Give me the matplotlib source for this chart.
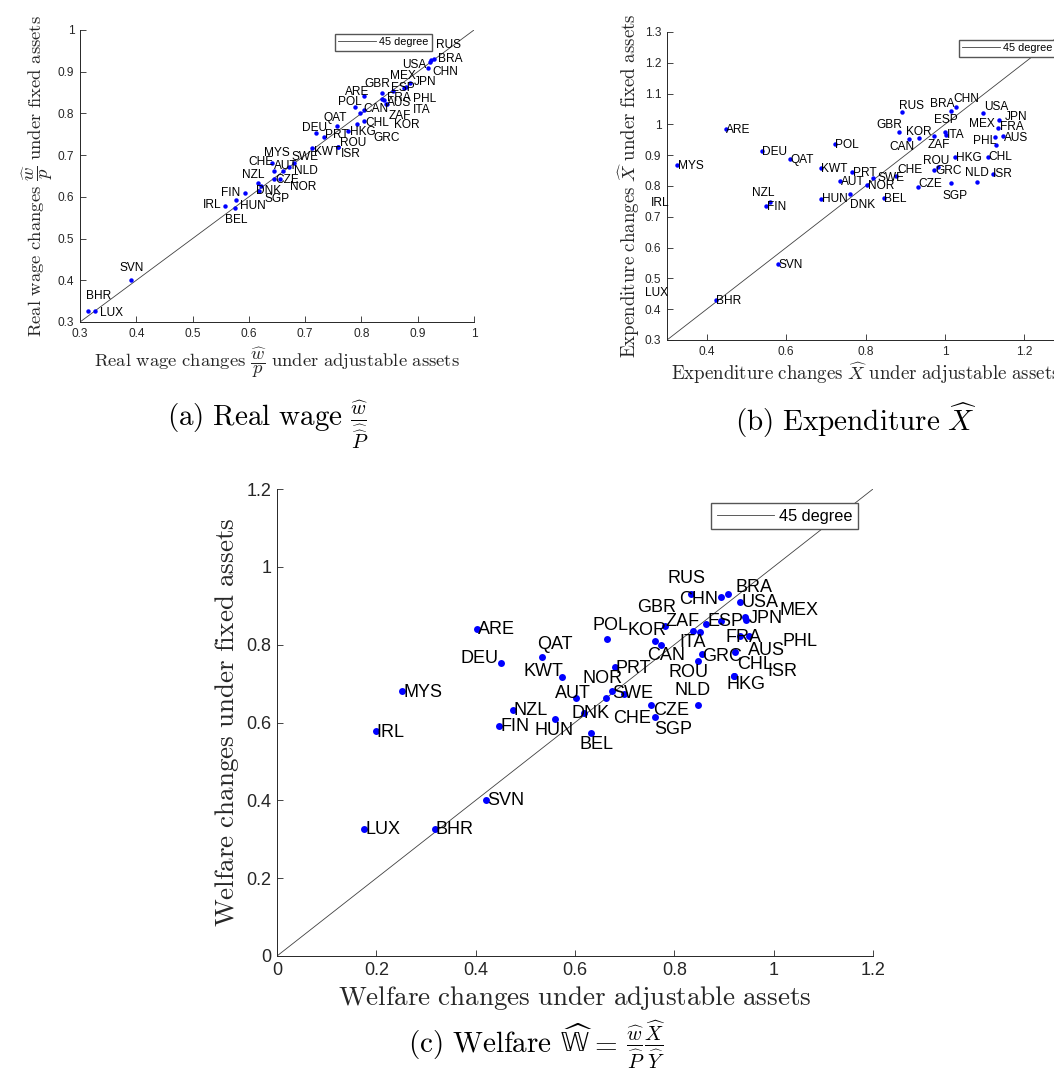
import matplotlib
matplotlib.use("Agg")
import matplotlib.pyplot as plt

plt.rcParams['mathtext.fontset'] = 'cm'
plt.rcParams['font.family'] = ['Liberation Sans', 'DejaVu Sans']

countries = ["ARE","AUS","AUT","BEL","BHR","BRA","CAN","CHE","CHL","CHN","CZE","DEU","DNK","ESP",
             "FIN","FRA","GBR","GRC","HKG","HUN","IRL","ISR","ITA","JPN","KOR","KWT","LUX","MEX",
             "MYS","NLD","NOR","NZL","PHL","POL","PRT","QAT","ROU","RUS","SGP","SVN","SWE","USA","ZAF"]
# real wage (= welfare) change under fixed assets
fixed_y = [0.841,0.822,0.662,0.573,0.327,0.929,0.800,0.672,0.781,0.923,0.644,0.752,0.625,0.853,
           0.592,0.822,0.849,0.775,0.719,0.609,0.577,0.720,0.832,0.864,0.809,0.717,0.327,0.872,
           0.680,0.644,0.662,0.633,0.862,0.815,0.743,0.769,0.757,0.931,0.615,0.401,0.680,0.910,0.834]
# real wage change under adjustable assets
wage_adj = [0.805,0.843,0.644,0.576,0.315,0.923,0.798,0.671,0.805,0.921,0.645,0.719,0.622,0.856,
            0.578,0.846,0.837,0.792,0.758,0.594,0.557,0.759,0.840,0.880,0.804,0.712,0.326,0.886,
            0.642,0.655,0.660,0.616,0.875,0.788,0.733,0.757,0.776,0.929,0.618,0.390,0.681,0.919,0.837]
# expenditure change under adjustable / fixed assets
exp_adj = [0.448,1.147,0.736,0.846,0.424,1.016,0.909,0.877,1.108,1.029,0.931,0.539,0.760,1.000,
           0.550,1.135,0.885,0.972,1.026,0.688,0.260,1.120,1.003,1.137,0.936,0.688,0.245,1.129,
           0.324,1.080,0.803,0.560,1.127,0.724,0.766,0.610,0.982,0.893,1.016,0.579,0.820,1.095,0.973]
exp_fixed = [0.986,0.962,0.816,0.760,0.429,1.042,0.951,0.834,0.895,1.055,0.798,0.913,0.773,0.975,
             0.735,0.988,0.975,0.851,0.894,0.759,0.746,0.840,0.967,1.013,0.956,0.857,0.451,0.932,
             0.867,0.814,0.803,0.748,0.958,0.936,0.846,0.888,0.862,1.039,0.809,0.547,0.827,1.038,0.961]
# welfare change under adjustable assets
welf_adj = [0.403,0.950,0.603,0.633,0.318,0.908,0.774,0.698,0.923,0.894,0.754,0.451,0.619,0.864,
            0.447,0.932,0.781,0.855,0.920,0.559,0.199,0.921,0.851,0.945,0.761,0.573,0.1755,0.943,
            0.252,0.848,0.663,0.475,0.894,0.664,0.680,0.533,0.848,0.834,0.761,0.421,0.675,0.933,0.837]

# label offsets (pixels, right / down) of each country name from its point
off_a = {"RUS":(1.7,-13.7),"BRA":(7,-1),"CHN":(3.3,10.3),"USA":(-26,-2.3),"MEX":(-20,-7.7),
         "JPN":(7.3,-4.7),"PHL":(9,11),"ESP":(-1.7,-3.7),"GBR":(-18,-9),"ARE":(-19,-4.7),
         "FRA":(0,-6.7),"AUS":(1.7,-1),"ZAF":(6.7,16.7),"ITA":(29,10),"POL":(-17,-5),
         "KOR":(30,15.7),"CAN":(3.3,-4),"CHL":(1,1.3),"GRC":(16.7,13.7),"HKG":(12.3,-15),
         "ROU":(-8.3,12),"ISR":(2.3,7.3),"QAT":(-13.3,-8.7),"DEU":(-13.7,-5.3),"PRT":(1.7,-2.3),
         "KWT":(1.7,4),"SWE":(-3,-6.7),"MYS":(-8,-10),"CHE":(-40,-5),"AUT":(0,-5.3),
         "NOR":(7.7,16.3),"NLD":(14,-7.3),"CZE":(1,1),"NZL":(-15.7,-7.7),"DNK":(-5.3,4.7),
         "SGP":(6,8.3),"HUN":(-5.7,13.3),"FIN":(-15,-7.3),"BEL":(-10,11.7),"IRL":(-21.7,-1.7),
         "SVN":(-11,-12),"BHR":(-2.3,-15),"LUX":(5.3,2)}
off_b = {"MYS":(1,0.7),"ARE":(0,1),"DEU":(0,0.7),"QAT":(0,0.7),"POL":(0,0.7),"KWT":(0,1),
         "PRT":(1,1),"AUT":(0.7,1),"SWE":(3.7,0),"NOR":(1,1),"CHE":(1,-5.3),"HUN":(0.7,0.7),
         "DNK":(0,10.7),"BEL":(0.7,1),"NZL":(-18.3,-8.7),"FIN":(0.7,1),"SVN":(0.7,0.7),
         "BHR":(0,0.7),"IRL":(0,0),"LUX":(0,0),"RUS":(-3.3,-6),"BRA":(-21.3,-7.7),
         "CHN":(-3,-8.7),"USA":(1.7,-5.7),"JPN":(5.7,-3.3),"FRA":(2,-0.7),"MEX":(-26.7,-21.3),
         "AUS":(0.3,2),"PHL":(-22.7,3.3),"GBR":(-23.3,-6.7),"KOR":(-13.3,-5.7),"CAN":(-19.3,7.7),
         "ZAF":(-6.7,9),"ESP":(-11.3,-11.7),"ITA":(1,0),"HKG":(1,0.7),"CHL":(0.7,0.3),
         "ROU":(-15,-6.3),"GRC":(1.3,0.7),"NLD":(-11.3,-8.3),"ISR":(0.7,0.7),"SGP":(-8.3,12.7),
         "CZE":(1,-3)}
off_c = {"RUS":(-23.7,-15.3),"CHN":(-41.5,2.7),"BRA":(8,-7.3),"USA":(1.3,1),"MEX":(34,-6.3),
         "JPN":(2,-1),"ESP":(1.7,-2.3),"PHL":(61,21),"ZAF":(-27,-10),"GBR":(-28,-18),
         "KOR":(-27.7,-11),"POL":(-14,-13.7),"CAN":(-14.3,10.7),"ITA":(-20,10.7),"FRA":(-14,1.7),
         "AUS":(-1,14.3),"CHL":(1.3,12.3),"HKG":(-7.6,8.3),"ISR":(32.6,-4.3),"GRC":(0,2.3),
         "ROU":(-30,10.7),"NLD":(-24,-15.3),"CZE":(2,4.7),"SGP":(-1,12.7),"CHE":(-10.3,24.3),
         "SWE":(0,1.7),"NOR":(-24,-20.3),"AUT":(-21.4,-4.7),"DNK":(-12.5,0.7),"PRT":(1,1.7),
         "HUN":(-20.5,11.7),"BEL":(-11.6,11.7),"KWT":(-38,-5),"QAT":(-4.5,-12.3),
         "DEU":(-40.6,-4.7)}

W, H = 1054, 1086
fig = plt.figure(figsize=(W/100, H/100), dpi=100)

def ax_at(l, t, r, b):
    return fig.add_axes([l/W, 1-b/H, (r-l)/W, (b-t)/H])

AXC = '#262626'

def style(ax, xlim, ylim, xt, yt, fs):
    ax.set_xlim(*xlim); ax.set_ylim(*ylim)
    ax.set_xticks(xt); ax.set_yticks(yt)
    ax.set_xticklabels([('%g' % v) for v in xt])
    ax.set_yticklabels([('%g' % v) for v in yt])
    for s in ['top', 'right']:
        ax.spines[s].set_visible(False)
    for s in ['left', 'bottom']:
        ax.spines[s].set_color(AXC); ax.spines[s].set_linewidth(0.7)
    ax.tick_params(direction='in', length=4, width=0.6, colors=AXC, labelsize=fs, pad=4)

def panel(ax, xs, ys, lo, hi, ms, fs, offs):
    ax.plot([lo, hi], [lo, hi], color='#404040', lw=0.6, label='45 degree', zorder=1)
    ax.plot(xs, ys, 'o', color='#0000ff', ms=ms, mec='none', zorder=2)
    for n, x, y in zip(countries, xs, ys):
        dx, dy = offs.get(n, (1, 1))
        ax.annotate(n, (x, y), xytext=(dx, -dy), textcoords='offset pixels', ha='left',
                    va='center', fontsize=fs, color='black', annotation_clip=False, zorder=3)

def legend(ax, right, top, fs, pad):
    ax.legend(loc='upper right', bbox_to_anchor=(right/W, 1-top/H), bbox_transform=fig.transFigure,
              fontsize=fs, frameon=True, fancybox=False, edgecolor='#555555', framealpha=1,
              borderpad=pad, handlelength=3.5, handletextpad=0.3, borderaxespad=0)

# (a)
axa = ax_at(80, 30, 474, 322)
ticks_a = [0.3,0.4,0.5,0.6,0.7,0.8,0.9,1]
style(axa, (0.3, 1), (0.3, 1), ticks_a, ticks_a, 8.6)
panel(axa, wage_adj, fixed_y, 0.3, 1.0, 3.2, 8.6, off_a)
axa.set_xlabel(r'$\mathrm{Real\ wage\ changes}\ \dfrac{\widehat{w}}{p}\ \mathrm{under\ adjustable\ assets}$',
               fontsize=13.4, color=AXC, labelpad=4)
axa.set_ylabel(r'$\mathrm{Real\ wage\ changes}\ \dfrac{\widehat{w}}{p}\ \mathrm{under\ fixed\ assets}$',
               fontsize=13.4, color=AXC, labelpad=2)
legend(axa, 432, 34, 7.8, 0.3)
fig.text(268/W, 1-425/H, r'$\mathrm{(a)\ Real\ wage}\ \frac{\widehat{w}}{\widehat{\widehat{P}}}$',
         fontsize=21, ha='center', va='center')

# (b)
axb = ax_at(667, 32, 1064, 340)
style(axb, (0.3, 1.3), (0.3, 1.3), [0.4,0.6,0.8,1.0,1.2],
      [0.3,0.4,0.5,0.6,0.7,0.8,0.9,1.0,1.1,1.2,1.3], 8.6)
panel(axb, exp_adj, exp_fixed, 0.3, 1.3, 3.2, 8.6, off_b)
axb.set_xlabel(r'$\mathrm{Expenditure\ changes}\ \widehat{X}\ \mathrm{under\ adjustable\ assets}$',
               fontsize=13.6, color=AXC, labelpad=2)
axb.set_ylabel(r'$\mathrm{Expenditure\ changes}\ \widehat{X}\ \mathrm{under\ fixed\ assets}$',
               fontsize=13.6, color=AXC, labelpad=2)
legend(axb, 1056, 40, 7.8, 0.3)
fig.text(856/W, 1-420/H, r'$\mathrm{(b)\ Expenditure}\ \widehat{X}$',
         fontsize=21, ha='center', va='center')

# (c)
axc = ax_at(277, 489, 873, 956)
ticks_c = [0,0.2,0.4,0.6,0.8,1.0,1.2]
style(axc, (0, 1.2), (0, 1.2), ticks_c, ticks_c, 13)
panel(axc, welf_adj, fixed_y, 0, 1.2, 5, 13, off_c)
axc.set_xlabel(r'$\mathrm{Welfare\ changes\ under\ adjustable\ assets}$', fontsize=19.5, color=AXC, labelpad=4)
axc.set_ylabel(r'$\mathrm{Welfare\ changes\ under\ fixed\ assets}$', fontsize=19.5, color=AXC, labelpad=4)
legend(axc, 858, 503, 11.7, 0.35)

# caption (c), assembled from pieces so that the double-struck W can use STIX
rend = fig.canvas.get_renderer()
pieces = [(r'$\mathrm{(c)\ Welfare}$', 'cm', 7), (r'$\widehat{\mathrm{\mathbb{W}}}$', 'stix', -3),
          (r'$=$', 'cm', 9),
          (r'$\frac{\widehat{w}}{\widehat{P}}\frac{\widehat{X}}{\widehat{Y}}$', 'cm', 0)]
objs = [fig.text(0, 0, t, fontsize=21, math_fontfamily=mf, va='baseline', ha='left') for t, mf, g in pieces]
exts = [o.get_window_extent(rend) for o in objs]
widths = [e.width + g for e, (t, mf, g) in zip(exts, pieces)]
x0 = 537 - sum(widths)/2
for o, w in zip(objs, widths):
    o.set_position((x0/W, 1-1052/H))
    x0 += w

fig.savefig('out.png', dpi=100)
